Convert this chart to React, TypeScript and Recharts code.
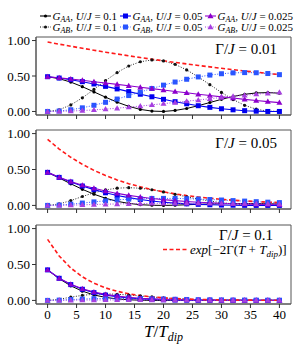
import React from 'react';
import { LineChart, Line, XAxis, YAxis, ReferenceArea } from 'recharts';

const T = [0, 2, 4, 6, 8, 10, 12, 14, 16, 18, 20, 22, 24, 26, 28, 30, 32, 34, 36, 38, 40];
const xTicks = [0, 5, 10, 15, 20, 25, 30, 35, 40];
const yTicks = [0, 0.25, 0.5, 0.75, 1];
const gammaLabels = ['0.01', '0.05', '0.1'];
const uLabels = ['0.1', '0.05', '0.025'];

// Panel 1: Γ/J = 0.01
const red1 = [0.98, 0.949, 0.92, 0.891, 0.863, 0.836, 0.81, 0.785, 0.76, 0.737, 0.714, 0.691, 0.67, 0.649, 0.629, 0.609, 0.59, 0.571, 0.554, 0.536, 0.52];
const aaU1P1 = [0.49, 0.462, 0.414, 0.349, 0.276, 0.201, 0.131, 0.072, 0.029, 0.005, 0.0, 0.014, 0.042, 0.081, 0.126, 0.171, 0.211, 0.242, 0.261, 0.266, 0.258];
const abU1P1 = [0, 0.024, 0.092, 0.192, 0.311, 0.435, 0.549, 0.641, 0.701, 0.726, 0.713, 0.664, 0.586, 0.487, 0.378, 0.268, 0.168, 0.087, 0.032, 0.004, 0.003];
const aaU2P1 = [0.49, 0.471, 0.448, 0.42, 0.388, 0.354, 0.318, 0.28, 0.243, 0.207, 0.171, 0.138, 0.108, 0.081, 0.058, 0.038, 0.023, 0.011, 0.004, 0.0, 0.0];
const abU2P1 = [0, 0.006, 0.024, 0.051, 0.087, 0.129, 0.175, 0.224, 0.274, 0.324, 0.371, 0.415, 0.454, 0.487, 0.513, 0.532, 0.544, 0.548, 0.546, 0.535, 0.519];
const aaU3P1 = [0.49, 0.474, 0.457, 0.439, 0.42, 0.401, 0.382, 0.362, 0.342, 0.322, 0.302, 0.282, 0.263, 0.243, 0.225, 0.206, 0.189, 0.171, 0.155, 0.139, 0.125];
const abU3P1 = [0, 0.002, 0.006, 0.013, 0.022, 0.033, 0.046, 0.061, 0.076, 0.093, 0.11, 0.127, 0.145, 0.162, 0.18, 0.197, 0.213, 0.228, 0.244, 0.257, 0.27];

// Panel 2: Γ/J = 0.05
const red2 = [0.92, 0.785, 0.67, 0.572, 0.488, 0.416, 0.355, 0.303, 0.259, 0.221, 0.188, 0.161, 0.137, 0.117, 0.1, 0.085, 0.073, 0.062, 0.053, 0.045, 0.039];
const aaU1P2 = [0.46, 0.382, 0.301, 0.224, 0.156, 0.1, 0.057, 0.028, 0.01, 0.002, 0, 0.003, 0.009, 0.015, 0.02, 0.024, 0.026, 0.026, 0.025, 0.023, 0.019];
const abU1P2 = [0, 0.02, 0.067, 0.124, 0.176, 0.216, 0.24, 0.247, 0.239, 0.218, 0.188, 0.155, 0.12, 0.088, 0.06, 0.038, 0.021, 0.01, 0.003, 0, 0];
const aaU2P2 = [0.46, 0.39, 0.326, 0.27, 0.22, 0.176, 0.139, 0.108, 0.083, 0.062, 0.045, 0.032, 0.022, 0.015, 0.009, 0.005, 0.003, 0.001, 0, 0, 0];
const abU2P2 = [0, 0.005, 0.017, 0.033, 0.049, 0.064, 0.077, 0.087, 0.093, 0.097, 0.098, 0.097, 0.093, 0.088, 0.082, 0.075, 0.067, 0.06, 0.052, 0.045, 0.039];
const aaU3P2 = [0.46, 0.392, 0.333, 0.282, 0.238, 0.2, 0.167, 0.14, 0.117, 0.097, 0.08, 0.066, 0.054, 0.044, 0.036, 0.029, 0.023, 0.019, 0.015, 0.012, 0.009];
const abU3P2 = [0, 0.001, 0.004, 0.008, 0.013, 0.017, 0.02, 0.024, 0.026, 0.028, 0.029, 0.03, 0.03, 0.029, 0.029, 0.028, 0.026, 0.025, 0.023, 0.022, 0.02];

// Panel 3: Γ/J = 0.1
const red3 = [0.85, 0.619, 0.451, 0.328, 0.239, 0.174, 0.127, 0.092, 0.067, 0.049, 0.036, 0.026, 0.019, 0.014, 0.01, 0.007, 0.005, 0.004, 0.003, 0.002, 0.002];
const aaU1P3 = [0.425, 0.302, 0.203, 0.129, 0.076, 0.042, 0.021, 0.009, 0.003, 0, 0, 0.001, 0.001, 0.002, 0.002, 0.002, 0.002, 0.002, 0.001, 0.001, 0.001];
const abU1P3 = [0, 0.016, 0.045, 0.071, 0.086, 0.091, 0.086, 0.075, 0.062, 0.048, 0.036, 0.025, 0.017, 0.01, 0.006, 0.003, 0.002, 0.001, 0, 0, 0];
const aaU2P3 = [0.425, 0.308, 0.22, 0.155, 0.108, 0.074, 0.05, 0.033, 0.022, 0.014, 0.009, 0.005, 0.003, 0.002, 0.001, 0.001, 0, 0, 0, 0, 0];
const abU2P3 = [0, 0.004, 0.012, 0.019, 0.024, 0.027, 0.027, 0.026, 0.024, 0.022, 0.019, 0.016, 0.013, 0.01, 0.008, 0.006, 0.005, 0.004, 0.003, 0.002, 0.002];
const aaU3P3 = [0.425, 0.309, 0.224, 0.162, 0.116, 0.084, 0.06, 0.043, 0.03, 0.021, 0.015, 0.011, 0.007, 0.005, 0.004, 0.003, 0.002, 0.001, 0.001, 0.001, 0];
const abU3P3 = [0, 0.001, 0.003, 0.005, 0.006, 0.007, 0.007, 0.007, 0.007, 0.006, 0.006, 0.005, 0.004, 0.004, 0.003, 0.002, 0.002, 0.002, 0.001, 0.001, 0.001];

const FONT = "'Liberation Serif', 'Times New Roman', Times, serif";
const BLACK = '#000000';
const BLACK_D = '#111111';
const BLUE = '#0000f0';
const BLUE_D = '#2a55ff';
const PURPLE = '#8c00cc';
const PURPLE_D = '#a63fe0';
const RED = '#ff1a1a';
const FRAME = '#555555';

const build = (red: number[], a1: number[], b1: number[], a2: number[], b2: number[], a3: number[], b3: number[]) =>
  T.map((t, i) => ({ T: t, red: red[i], aa1: a1[i], ab1: b1[i], aa2: a2[i], ab2: b2[i], aa3: a3[i], ab3: b3[i] }));

const panels = [
  build(red1, aaU1P1, abU1P1, aaU2P1, abU2P1, aaU3P1, abU3P1),
  build(red2, aaU1P2, abU1P2, aaU2P2, abU2P2, aaU3P2, abU3P2),
  build(red3, aaU1P3, abU1P3, aaU2P3, abU2P3, aaU3P3, abU3P3),
];

const circleDot = (color: string) => (p: any) =>
  p.cx == null ? null : <circle key={`c${p.index}`} cx={p.cx} cy={p.cy} r={1.6} fill={color} stroke="none" />;
const squareDot = (color: string) => (p: any) =>
  p.cx == null ? null : <rect key={`s${p.index}`} x={p.cx - 2.5} y={p.cy - 2.5} width={5} height={5} fill={color} stroke="none" />;
const triDot = (color: string) => (p: any) =>
  p.cx == null ? null : (
    <polygon
      key={`t${p.index}`}
      points={`${p.cx},${p.cy - 3} ${p.cx - 3},${p.cy + 2.2} ${p.cx + 3},${p.cy + 2.2}`}
      fill={color}
      stroke="none"
    />
  );

const XLabel = (props: any) => {
  const vb = props.viewBox || {};
  const cx = vb.x + vb.width / 2;
  const y = vb.y + 33;
  return (
    <text x={cx} y={y} textAnchor="middle" style={{ fontFamily: FONT }} fontSize={17} fontStyle="italic" fill="#000">
      <tspan>T</tspan>
      <tspan fontStyle="normal">/</tspan>
      <tspan>T</tspan>
      <tspan fontSize={12} dy={4}>dip</tspan>
    </text>
  );
};

type PanelProps = { idx: number; top: number; height: number; mTop: number; mBottom: number; xh: number };

const tickStyle = { fontSize: 13, fill: '#000', style: { fontFamily: FONT } };

const Panel = ({ idx, top, height, mTop, mBottom, xh }: PanelProps) => {
  const data = panels[idx];
  const last = idx === 2;
  return (
    <div style={{ position: 'absolute', left: 0, top, width: 300, height }}>
      <LineChart width={300} height={height} data={data} margin={{ top: mTop, right: 9, bottom: mBottom, left: 0 }}>
        <XAxis
          dataKey="T"
          type="number"
          domain={[-2, 42]}
          ticks={xTicks}
          allowDataOverflow
          height={xh}
          tickSize={4}
          stroke={FRAME}
          tickLine={{ stroke: '#333' }}
          tick={tickStyle}
          tickFormatter={last ? (v: number) => String(v) : () => ''}
          label={last ? <XLabel /> : undefined}
        />
        <YAxis
          type="number"
          domain={[-0.05, 1.05]}
          ticks={yTicks}
          allowDataOverflow
          width={36}
          tickSize={4}
          stroke={FRAME}
          tickLine={{ stroke: '#333' }}
          tick={tickStyle}
          tickFormatter={(v: number) => v.toFixed(2)}
        />
        <ReferenceArea x1={-2} x2={42} y1={-0.05} y2={1.05} fill="none" stroke={FRAME} strokeWidth={1} ifOverflow="visible" />
        <Line type="linear" dataKey="aa1" stroke={BLACK} strokeWidth={1} dot={circleDot(BLACK)} activeDot={false} isAnimationActive={false} />
        <Line type="linear" dataKey="ab1" stroke={BLACK_D} strokeWidth={0.9} strokeDasharray="1 1.6" dot={circleDot(BLACK_D)} activeDot={false} isAnimationActive={false} />
        <Line type="linear" dataKey="aa2" stroke={BLUE} strokeWidth={1.1} dot={squareDot(BLUE)} activeDot={false} isAnimationActive={false} />
        <Line type="linear" dataKey="ab2" stroke={BLUE_D} strokeWidth={1} strokeDasharray="1 1.6" dot={squareDot(BLUE_D)} activeDot={false} isAnimationActive={false} />
        <Line type="linear" dataKey="aa3" stroke={PURPLE} strokeWidth={1.1} dot={triDot(PURPLE)} activeDot={false} isAnimationActive={false} />
        <Line type="linear" dataKey="ab3" stroke={PURPLE_D} strokeWidth={1} strokeDasharray="1 1.6" dot={triDot(PURPLE_D)} activeDot={false} isAnimationActive={false} />
        <Line type="linear" dataKey="red" stroke={RED} strokeWidth={1.6} strokeDasharray="4 2.5" dot={false} activeDot={false} isAnimationActive={false} />
      </LineChart>
    </div>
  );
};

const legendCols = [
  { x: 40, color: BLACK, colorD: BLACK_D, marker: 'c' },
  { x: 120, color: BLUE, colorD: BLUE_D, marker: 's' },
  { x: 205, color: PURPLE, colorD: PURPLE_D, marker: 't' },
];

const Marker = ({ kind, cx, cy, color }: { kind: string; cx: number; cy: number; color: string }) => {
  if (kind === 'c') return <circle cx={cx} cy={cy} r={1.6} fill={color} />;
  if (kind === 's') return <rect x={cx - 2.5} y={cy - 2.5} width={5} height={5} fill={color} />;
  return <polygon points={`${cx},${cy - 3} ${cx - 3},${cy + 2.2} ${cx + 3},${cy + 2.2}`} fill={color} />;
};

const LegendLabel = ({ x, y, sub, u }: { x: number; y: number; sub: string; u: string }) => (
  <text x={x} y={y} style={{ fontFamily: FONT }} fontSize={11} fill="#000">
    <tspan fontStyle="italic">G</tspan>
    <tspan fontStyle="italic" fontSize={8} dy={2}>{sub}</tspan>
    <tspan dy={-2}>, </tspan>
    <tspan fontStyle="italic">U</tspan>
    <tspan>/</tspan>
    <tspan fontStyle="italic">J</tspan>
    <tspan>{` = ${u}`}</tspan>
  </text>
);

const Overlay = () => (
  <svg width={300} height={350} style={{ position: 'absolute', left: 0, top: 0, pointerEvents: 'none' }}>
    {legendCols.map((c, i) => (
      <g key={i}>
        <line x1={c.x} x2={c.x + 11} y1={16} y2={16} stroke={c.color} strokeWidth={1.1} />
        <Marker kind={c.marker} cx={c.x + 5.5} cy={16} color={c.color} />
        <LegendLabel x={c.x + 12.5} y={19.5} sub="AA" u={uLabels[i]} />
        <line x1={c.x} x2={c.x + 11} y1={27} y2={27} stroke={c.colorD} strokeWidth={1} strokeDasharray="1 1.6" />
        <Marker kind={c.marker} cx={c.x + 5.5} cy={27} color={c.colorD} />
        <LegendLabel x={c.x + 12.5} y={30.5} sub="AB" u={uLabels[i]} />
      </g>
    ))}
    {[
      { x: 277, y: 54, anchor: 'end' },
      { x: 277, y: 148, anchor: 'end' },
      { x: 246, y: 240, anchor: 'middle' },
    ].map((g, i) => (
      <text key={i} x={g.x} y={g.y} textAnchor={g.anchor as any} style={{ fontFamily: FONT }} fontSize={15} fill="#000">
        <tspan>Γ/</tspan>
        <tspan fontStyle="italic">J</tspan>
        <tspan>{` = ${gammaLabels[i]}`}</tspan>
      </text>
    ))}
    <line x1={163} x2={187} y1={249.5} y2={249.5} stroke={RED} strokeWidth={1.5} strokeDasharray="4 2.5" />
    <text x={190} y={253.5} style={{ fontFamily: FONT }} fontSize={13} fill="#000">
      <tspan fontStyle="italic">exp</tspan>
      <tspan>[−2Γ(</tspan>
      <tspan fontStyle="italic">T</tspan>
      <tspan> + </tspan>
      <tspan fontStyle="italic">T</tspan>
      <tspan fontStyle="italic" fontSize={9} dy={3}>dip</tspan>
      <tspan dy={-3}>)]</tspan>
    </text>
  </svg>
);

export default function App() {
  return (
    <div style={{ position: 'absolute', left: 0, top: 0, width: 300, height: 350, background: '#fff', overflow: 'hidden', fontFamily: FONT }}>
      <Panel idx={0} top={0} height={120} mTop={37} mBottom={0} xh={5} />
      <Panel idx={1} top={120} height={95} mTop={10} mBottom={1} xh={5} />
      <Panel idx={2} top={215} height={135} mTop={10} mBottom={0} xh={46} />
      <Overlay />
    </div>
  );
}
